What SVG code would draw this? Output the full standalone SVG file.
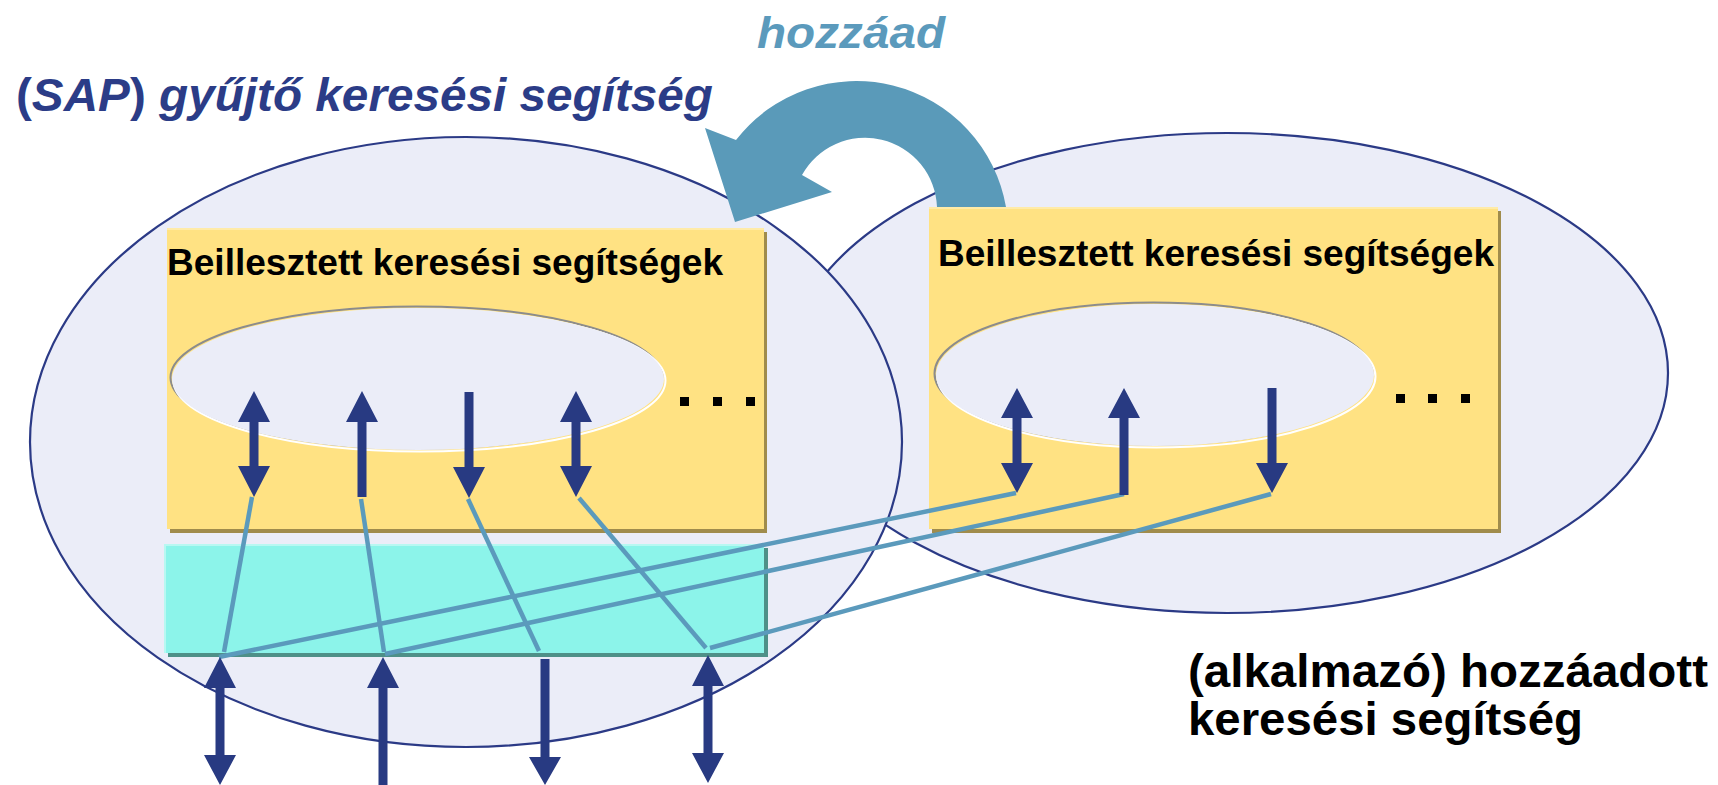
<svg xmlns="http://www.w3.org/2000/svg" width="1718" height="785" viewBox="0 0 1718 785">
<style>
.big{fill:#EBEDF8;stroke:#2B3A86;stroke-width:2.2}
.ybox{fill:#FFE283}
.yshadow{fill:#A08C4C}
.cbox{fill:#8CF4EA}
.cshadow{fill:#4E9088}
.inner{fill:#EBEDF8}
.innerGray{fill:none;stroke:#8C8C8C;stroke-width:2}
.innerWhite{fill:none;stroke:#FFFFFF;stroke-width:2}
.nav{fill:#283A82}
.conn{stroke:#5B9ABC;stroke-width:4.5;fill:none}
.dot{fill:#000}
.lbl{font-family:"Liberation Sans",Arial,sans-serif;font-weight:bold}
</style>
<rect width="1718" height="785" fill="#FFFFFF"/>

<g id="right-ellipse">
<ellipse class="big" cx="1227" cy="373" rx="441" ry="240"/>
</g>
<g id="left-ellipse">
<ellipse class="big" cx="466" cy="442" rx="436" ry="305"/>
</g>

<g id="add-arrow">
<path fill="#5A9AB9" d="M1006,232 L1006,207 A152,152 0 0 0 736,140 L705,128 L735,222 L832,192 L802,175 A72,72 0 0 1 937,207 L937,232 Z"/>
</g>

<g id="left-box">
<rect class="yshadow" x="170" y="232" width="597" height="301"/>
<rect class="ybox" x="167" y="228" width="597" height="301"/>
<rect x="167" y="228" width="597" height="2" fill="#FFEBA8"/>
<text class="lbl" x="167" y="275" font-size="36" textLength="556" lengthAdjust="spacingAndGlyphs" fill="#000">Beillesztett keresési segítségek</text>
<g id="left-inner">
<ellipse class="innerGray" cx="416.5" cy="377.5" rx="246" ry="71"/>
<ellipse class="innerWhite" cx="419.5" cy="380.5" rx="246" ry="71"/>
<ellipse class="inner" cx="418" cy="379" rx="246" ry="71"/>
</g>
<rect class="dot" x="680" y="397" width="9" height="9"/>
<rect class="dot" x="713" y="397" width="9" height="9"/>
<rect class="dot" x="746" y="397" width="9" height="9"/>
</g>

<g id="right-box">
<rect class="yshadow" x="932" y="211" width="569" height="322"/>
<rect class="ybox" x="929" y="207" width="569" height="322"/>
<rect x="929" y="207" width="569" height="2" fill="#FFEBA8"/>
<text class="lbl" x="938" y="266" font-size="36" textLength="556" lengthAdjust="spacingAndGlyphs" fill="#000">Beillesztett keresési segítségek</text>
<g id="right-inner">
<ellipse class="innerGray" cx="1153.5" cy="373.5" rx="219" ry="71"/>
<ellipse class="innerWhite" cx="1156.5" cy="376.5" rx="219" ry="71"/>
<ellipse class="inner" cx="1155" cy="375" rx="219" ry="71"/>
</g>
<rect class="dot" x="1396" y="394" width="9" height="9"/>
<rect class="dot" x="1428" y="394" width="9" height="9"/>
<rect class="dot" x="1461" y="394" width="9" height="9"/>
</g>

<g id="cyan-box">
<rect class="cshadow" x="168" y="548" width="600" height="109"/>
<rect class="cbox" x="164" y="544" width="600" height="109"/>
<rect x="164" y="544" width="600" height="2" fill="#B8F8F2"/>
<rect x="164" y="544" width="2" height="109" fill="#B8F8F2"/>
</g>

<g id="connectors">
<line class="conn" x1="252" y1="497" x2="224" y2="652"/>
<line class="conn" x1="361" y1="499" x2="384" y2="652"/>
<line class="conn" x1="468" y1="499" x2="539" y2="651"/>
<line class="conn" x1="579" y1="498" x2="706" y2="648"/>
<line class="conn" x1="219" y1="657" x2="1016" y2="493"/>
<line class="conn" x1="385" y1="654" x2="1124" y2="494"/>
<line class="conn" x1="710" y1="648" x2="1271" y2="494"/>

<!-- left box arrows -->
<path class="nav" d="M254,391 L270,422 L258.5,422 L258.5,466 L270,466 L254,497 L238,466 L249.5,466 L249.5,422 L238,422 Z"/>
<path class="nav" d="M362,391 L378,422 L366.5,422 L366.5,497 L357.5,497 L357.5,422 L346,422 Z"/>
<path class="nav" d="M469,498 L485,467 L473.5,467 L473.5,392 L464.5,392 L464.5,467 L453,467 Z"/>
<path class="nav" d="M576,391 L592,422 L580.5,422 L580.5,466 L592,466 L576,497 L560,466 L571.5,466 L571.5,422 L560,422 Z"/>

<!-- right box arrows -->
<path class="nav" d="M1017,388 L1033,418 L1021.5,418 L1021.5,463 L1033,463 L1017,493 L1001,463 L1012.5,463 L1012.5,418 L1001,418 Z"/>
<path class="nav" d="M1124,388 L1140,418 L1128.5,418 L1128.5,495 L1119.5,495 L1119.5,418 L1108,418 Z"/>
<path class="nav" d="M1272,493 L1288,463 L1276.5,463 L1276.5,388 L1267.5,388 L1267.5,463 L1256,463 Z"/>

<!-- lower arrows -->
<path class="nav" d="M220,657 L236,688 L224.5,688 L224.5,755 L236,755 L220,785 L204,755 L215.5,755 L215.5,688 L204,688 Z"/>
<path class="nav" d="M383,657 L399,688 L387.5,688 L387.5,786 L378.5,786 L378.5,688 L367,688 Z"/>
<path class="nav" d="M545,785 L561,757 L549.5,757 L549.5,659 L540.5,659 L540.5,757 L529,757 Z"/>
<path class="nav" d="M708,655 L724,686 L712.5,686 L712.5,753 L724,753 L708,783 L692,753 L703.5,753 L703.5,686 L692,686 Z"/>
</g>

<g id="title">
<text class="lbl" x="16" y="111" font-size="46" textLength="697" lengthAdjust="spacingAndGlyphs" fill="#2B3C87">(<tspan font-style="italic">SAP</tspan>)<tspan font-style="italic"> gyűjtő keresési segítség</tspan></text>
</g>

<g id="add-label">
<text class="lbl" x="757" y="48" font-size="44" font-style="italic" textLength="188" lengthAdjust="spacingAndGlyphs" fill="#5B9ABC">hozzáad</text>
</g>

<g id="app-label">
<text class="lbl" x="1188" y="687" font-size="46" textLength="520" lengthAdjust="spacingAndGlyphs" fill="#000">(alkalmazó) hozzáadott</text>
<text class="lbl" x="1188" y="735" font-size="46" textLength="395" lengthAdjust="spacingAndGlyphs" fill="#000">keresési segítség</text>
</g>
</svg>
